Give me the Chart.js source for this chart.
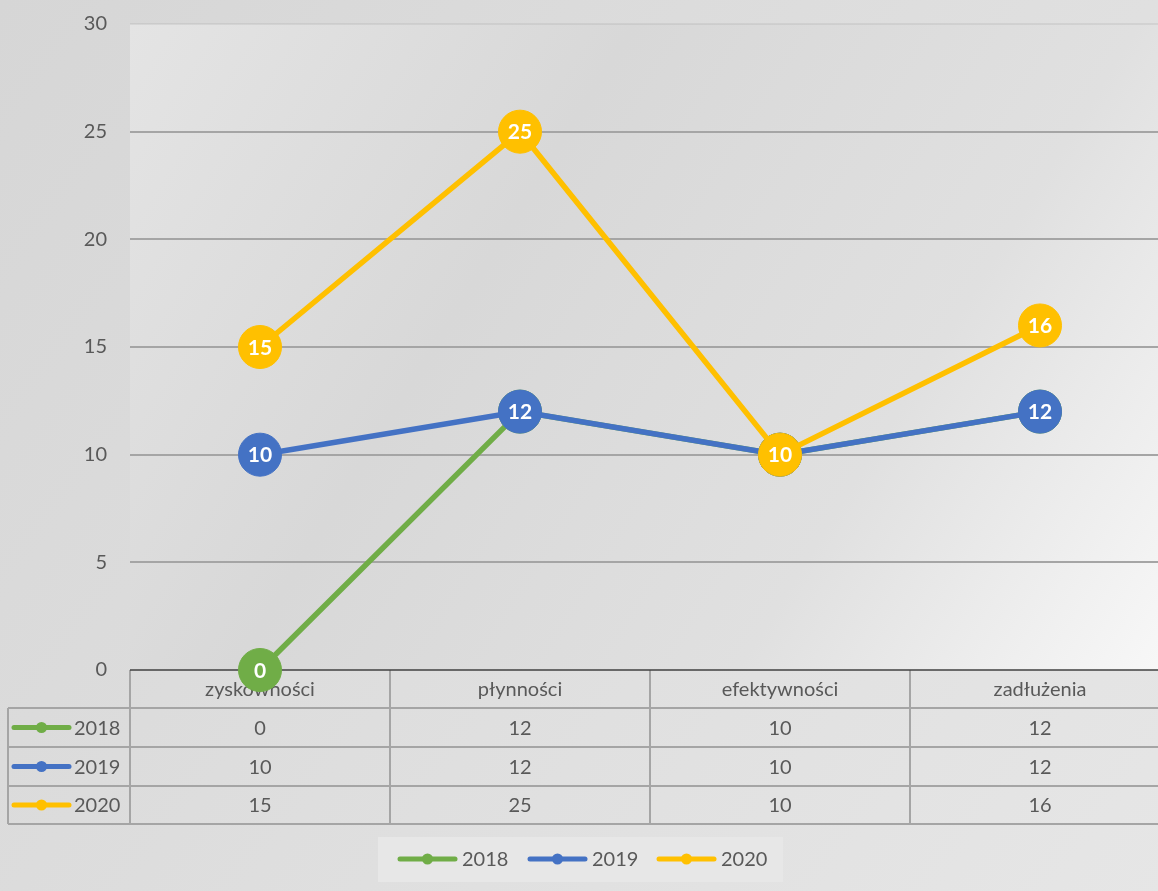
<!DOCTYPE html>
<html>
<head>
<meta charset="utf-8">
<script src="https://cdn.jsdelivr.net/npm/chart.js@4.4.1/dist/chart.umd.min.js"></script>
<style>
  html, body { margin: 0; padding: 0; overflow: hidden; background: #dcdcdc; width: 1158px; height: 891px; }
  #wrap { width: 1170px; height: 891px; position: relative; }
  canvas { display: block; }
</style>
</head>
<body>
<div id="wrap"><canvas id="c" width="1170" height="891" style="width:1170px;height:891px"></canvas></div>
<script>
const categories = ['zyskowności', 'płynności', 'efektywności', 'zadłużenia'];
const seriesNames = ['2018', '2019', '2020'];
const values2018 = [0, 12, 10, 12];
const values2019 = [10, 12, 10, 12];
const values2020 = [15, 25, 10, 16];
const seriesColors = ['#70ad47', '#4472c4', '#ffc000'];
const yMin = 0, yMax = 30, yStep = 5;

const FONT = 'Lato, "Open Sans", "DejaVu Sans", sans-serif';
const TEXT = '#595959';
const GRID = '#a5a5a5';

const bgPlugin = {
  id: 'bg',
  beforeDraw(chart) {
    const { ctx, chartArea: a, width, height } = chart;
    ctx.save();
    let g = ctx.createLinearGradient(0, 0, width, height);
    g.addColorStop(0, '#d6d6d6');
    g.addColorStop(1, '#e6e6e6');
    ctx.fillStyle = g;
    ctx.fillRect(0, 0, width, height);
    g = ctx.createLinearGradient(a.left, a.top, a.right, a.bottom);
    g.addColorStop(0, '#e4e4e4');
    g.addColorStop(0.35, '#d8d8d8');
    g.addColorStop(0.7, '#e0e0e0');
    g.addColorStop(1, '#f8f8f8');
    ctx.fillStyle = g;
    ctx.fillRect(a.left, a.top, a.right - a.left, a.bottom - a.top);
    ctx.restore();
  }
};

function drawKey(ctx, x, y, color) {
  ctx.save();
  ctx.strokeStyle = color;
  ctx.lineWidth = 5;
  ctx.lineCap = 'round';
  ctx.beginPath();
  ctx.moveTo(x, y);
  ctx.lineTo(x + 55, y);
  ctx.stroke();
  ctx.fillStyle = color;
  ctx.beginPath();
  ctx.arc(x + 27.5, y, 5.5, 0, Math.PI * 2);
  ctx.fill();
  ctx.restore();
}

const tablePlugin = {
  id: 'table',
  beforeDatasetsDraw(chart) {
    const { ctx, chartArea: a, scales: { x } } = chart;
    const seriesData = chart.data.datasets.map(d => d.data);
    const half = (x.getPixelForValue(1) - x.getPixelForValue(0)) / 2;
    const rows = [a.bottom, a.bottom + 38, a.bottom + 77, a.bottom + 116, a.bottom + 154];
    const leftX = 8;
    ctx.save();
    ctx.strokeStyle = GRID;
    ctx.lineWidth = 2;
    for (let r = 1; r < rows.length; r++) {
      ctx.beginPath();
      ctx.moveTo(leftX, rows[r]);
      ctx.lineTo(chart.width, rows[r]);
      ctx.stroke();
    }
    ctx.beginPath();
    ctx.moveTo(leftX, rows[1]);
    ctx.lineTo(leftX, rows[4]);
    ctx.stroke();
    for (let i = 0; i <= categories.length; i++) {
      const xx = x.getPixelForValue(i) - half;
      ctx.beginPath();
      ctx.moveTo(xx, a.bottom);
      ctx.lineTo(xx, rows[4]);
      ctx.stroke();
    }
    ctx.strokeStyle = '#404040';
    ctx.lineWidth = 1.5;
    ctx.beginPath();
    ctx.moveTo(a.left, a.bottom);
    ctx.lineTo(chart.width, a.bottom);
    ctx.stroke();
    ctx.fillStyle = TEXT;
    ctx.font = '20px ' + FONT;
    ctx.textAlign = 'center';
    ctx.textBaseline = 'middle';
    categories.forEach((c, i) => {
      ctx.fillText(c, x.getPixelForValue(i), (rows[0] + rows[1]) / 2 + 1);
    });
    seriesData.forEach((vals, s) => {
      const cy = (rows[s + 1] + rows[s + 2]) / 2 + 1;
      vals.forEach((v, i) => {
        ctx.fillText(String(v), x.getPixelForValue(i), cy);
      });
      drawKey(ctx, 14, cy - 1, seriesColors[s]);
      ctx.textAlign = 'left';
      ctx.fillText(seriesNames[s], 74, cy);
      ctx.textAlign = 'center';
    });
    ctx.fillStyle = '#e7e7e7';
    ctx.fillRect(378, 837, 405, 45);
    ctx.textAlign = 'left';
    const lx = [400, 530, 659];
    seriesNames.forEach((n, s) => {
      drawKey(ctx, lx[s], 859, seriesColors[s]);
      ctx.fillStyle = TEXT;
      ctx.fillText(n, lx[s] + 62, 860);
    });
    ctx.restore();
  }
};

const labelPlugin = {
  id: 'pointLabels',
  afterDatasetDraw(chart, args) {
    const { ctx } = chart;
    const meta = args.meta;
    const data = chart.data.datasets[args.index].data;
    ctx.save();
    ctx.fillStyle = '#ffffff';
    ctx.font = 'bold 21px ' + FONT;
    ctx.textAlign = 'center';
    ctx.textBaseline = 'middle';
    meta.data.forEach((pt, i) => {
      ctx.fillText(String(data[i]), pt.x, pt.y + 1);
    });
    ctx.restore();
  }
};

const seriesValues = [values2018, values2019, values2020];
const datasets = seriesValues.map((vals, s) => ({
  label: seriesNames[s],
  data: vals,
  borderColor: seriesColors[s],
  backgroundColor: seriesColors[s],
  pointBackgroundColor: seriesColors[s],
  pointBorderColor: seriesColors[s],
  borderWidth: 5.5,
  pointRadius: 21.5,
  pointBorderWidth: 1,
  pointHoverRadius: 21.5,
  tension: 0,
  clip: false,
  order: seriesValues.length - 1 - s
}));

new Chart(document.getElementById('c'), {
  type: 'line',
  data: { labels: categories, datasets },
  options: {
    responsive: false,
    maintainAspectRatio: false,
    animation: false,
    events: [],
    layout: { autoPadding: false, padding: { top: 24, bottom: 221, left: 0, right: 0 } },
    plugins: { legend: { display: false }, tooltip: { enabled: false } },
    scales: {
      x: { display: false, offset: true },
      y: {
        min: yMin, max: yMax,
        afterFit(scale) { scale.width = 130; },
        border: { display: false },
        grid: {
          drawTicks: true,
          tickLength: 23,
          tickColor: 'rgba(0,0,0,0)',
          lineWidth: 2,
          color: ctx => (ctx.tick && ctx.tick.value === yMax) ? 'rgba(0,0,0,0.06)' : (ctx.tick && ctx.tick.value === 0 ? 'rgba(0,0,0,0)' : GRID)
        },
        ticks: {
          stepSize: yStep,
          padding: 0,
          color: TEXT,
          font: { family: FONT, size: 20 }
        }
      }
    }
  },
  plugins: [bgPlugin, tablePlugin, labelPlugin]
});
</script>
</body>
</html>
